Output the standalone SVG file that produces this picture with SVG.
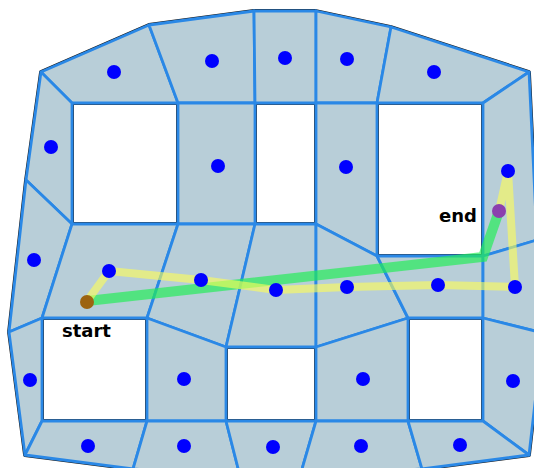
<svg xmlns="http://www.w3.org/2000/svg" width="534" height="468" viewBox="0 0 534 468">
<style>
.cell{fill:#b8ced8;stroke:#2a88e6;stroke-width:2.8;stroke-linejoin:round}
.hole{fill:#ffffff;stroke:#2a3440;stroke-width:1}
.dot{fill:#0000ff}
.lbl{font-family:"DejaVu Sans",sans-serif;font-weight:bold;font-size:18px;fill:#000}
</style>
<rect width="534" height="468" fill="#ffffff"/>
<polygon points="41,72 149,25 254,11 316,11 391,27 529,72 537,240 543,333 529,455 422,469 300,476 240,476 133,469 25,455 9,332 26,180" fill="#b8ced8" stroke="#1a1a1a" stroke-width="3.8" stroke-linejoin="round"/>
<g id="holes">
<rect x="73.5" y="104.5" width="103" height="118" class="hole"/>
<rect x="256.5" y="104.5" width="58" height="118" class="hole"/>
<rect x="378.5" y="104.5" width="103" height="150" class="hole"/>
<rect x="43.5" y="319.5" width="102" height="100" class="hole"/>
<rect x="227.5" y="348.5" width="87" height="71" class="hole"/>
<rect x="409.5" y="319.5" width="72" height="100" class="hole"/>
</g>
<g id="cells">
<g id="cell-top1"><polygon class="cell" points="41,72 149,25 178,103 72,103"/></g>
<g id="cell-top2"><polygon class="cell" points="149,25 254,11 255,103 178,103"/></g>
<g id="cell-top3"><polygon class="cell" points="254,11 316,11 316,103 255,103"/></g>
<g id="cell-top4"><polygon class="cell" points="316,11 391,27 377,103 316,103"/></g>
<g id="cell-top5"><polygon class="cell" points="391,27 529,72 483,103 377,103"/></g>
<g id="cell-left1"><polygon class="cell" points="41,72 72,103 72,224 26,180"/></g>
<g id="cell-mid1"><polygon class="cell" points="178,103 255,103 255,224 178,224"/></g>
<g id="cell-mid2"><polygon class="cell" points="316,103 377,103 377,256 316,224"/></g>
<g id="cell-right1"><polygon class="cell" points="529,72 537,240 483,256 483,103"/></g>
<g id="cell-left2"><polygon class="cell" points="26,180 72,224 42,318 9,332"/></g>
<g id="cell-r1"><polygon class="cell" points="72,224 178,224 147,318 42,318"/></g>
<g id="cell-r2"><polygon class="cell" points="178,224 255,224 226,347 147,318"/></g>
<g id="cell-r3"><polygon class="cell" points="255,224 316,224 316,347 226,347"/></g>
<g id="cell-r4"><polygon class="cell" points="316,224 377,256 408,318 316,347"/></g>
<g id="cell-r5"><polygon class="cell" points="377,256 483,256 483,318 408,318"/></g>
<g id="cell-r6"><polygon class="cell" points="483,256 537,240 543,333 483,318"/></g>
<g id="cell-lo1"><polygon class="cell" points="9,332 42,318 42,421 25,455"/></g>
<g id="cell-lo2"><polygon class="cell" points="147,318 226,347 226,421 147,421"/></g>
<g id="cell-lo3"><polygon class="cell" points="316,347 408,318 408,421 316,421"/></g>
<g id="cell-lo4"><polygon class="cell" points="483,318 543,333 529,455 483,421"/></g>
<g id="cell-b1"><polygon class="cell" points="42,421 147,421 133,469 25,455"/></g>
<g id="cell-b2"><polygon class="cell" points="147,421 226,421 240,476 133,469"/></g>
<g id="cell-b3"><polygon class="cell" points="226,421 316,421 300,476 240,476"/></g>
<g id="cell-b4"><polygon class="cell" points="316,421 408,421 422,469 300,476"/></g>
<g id="cell-b5"><polygon class="cell" points="408,421 483,421 529,455 422,469"/></g>
</g>
<g id="connectors" fill="none">
<polyline points="87,301 483,257 499,211" stroke="#22ee55" stroke-opacity="0.68" stroke-width="10" stroke-linejoin="miter"/>
<polyline points="87,301 109,271 201,280 276,290 347,287 438,285 515,287 508,171 499,211" stroke="#ffff55" stroke-opacity="0.6" stroke-width="8" stroke-linejoin="round"/>
</g>
<g id="nodes">
<g id="n1"><circle class="dot" cx="114" cy="72" r="7"/></g>
<g id="n2"><circle class="dot" cx="212" cy="61" r="7"/></g>
<g id="n3"><circle class="dot" cx="285" cy="58" r="7"/></g>
<g id="n4"><circle class="dot" cx="347" cy="59" r="7"/></g>
<g id="n5"><circle class="dot" cx="434" cy="72" r="7"/></g>
<g id="n6"><circle class="dot" cx="51" cy="147" r="7"/></g>
<g id="n7"><circle class="dot" cx="218" cy="166" r="7"/></g>
<g id="n8"><circle class="dot" cx="346" cy="167" r="7"/></g>
<g id="n9"><circle class="dot" cx="508" cy="171" r="7"/></g>
<g id="n10"><circle class="dot" cx="34" cy="260" r="7"/></g>
<g id="n11"><circle class="dot" cx="109" cy="271" r="7"/></g>
<g id="n12"><circle class="dot" cx="201" cy="280" r="7"/></g>
<g id="n13"><circle class="dot" cx="276" cy="290" r="7"/></g>
<g id="n14"><circle class="dot" cx="347" cy="287" r="7"/></g>
<g id="n15"><circle class="dot" cx="438" cy="285" r="7"/></g>
<g id="n16"><circle class="dot" cx="515" cy="287" r="7"/></g>
<g id="n17"><circle class="dot" cx="30" cy="380" r="7"/></g>
<g id="n18"><circle class="dot" cx="184" cy="379" r="7"/></g>
<g id="n19"><circle class="dot" cx="363" cy="379" r="7"/></g>
<g id="n20"><circle class="dot" cx="513" cy="381" r="7"/></g>
<g id="n21"><circle class="dot" cx="88" cy="446" r="7"/></g>
<g id="n22"><circle class="dot" cx="184" cy="446" r="7"/></g>
<g id="n23"><circle class="dot" cx="273" cy="447" r="7"/></g>
<g id="n24"><circle class="dot" cx="361" cy="446" r="7"/></g>
<g id="n25"><circle class="dot" cx="460" cy="445" r="7"/></g>
<g id="start"><circle cx="87" cy="302" r="7" fill="#9c6310"/><text class="lbl" x="62" y="337">start</text></g>
<g id="end"><circle cx="499" cy="211" r="7" fill="#8b3fae"/><text class="lbl" x="439" y="222">end</text></g>
</g>
</svg>
